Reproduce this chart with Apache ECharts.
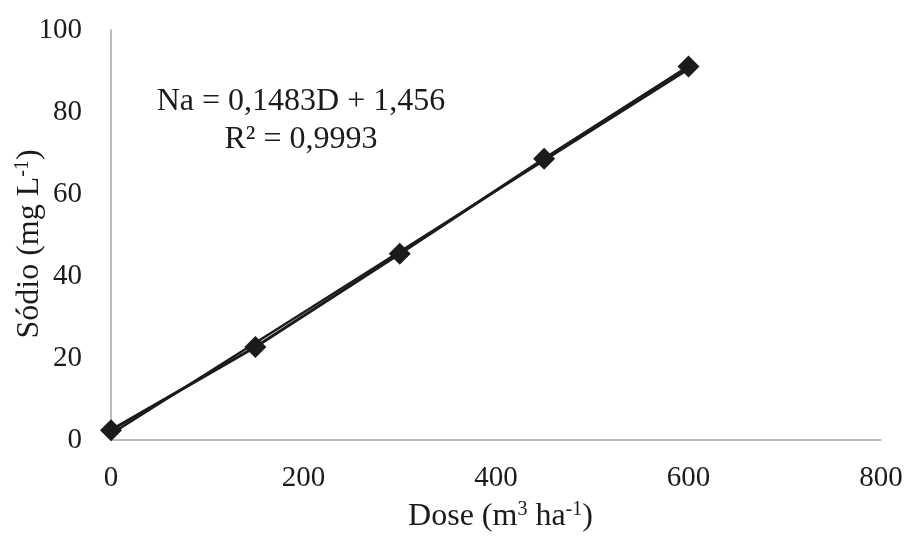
<!DOCTYPE html>
<html>
<head>
<meta charset="utf-8">
<script src="https://cdn.jsdelivr.net/npm/echarts@6/dist/echarts.min.js"></script>
<style>
  html, body { margin: 0; padding: 0; background: #fff; }
  #chart { width: 914px; height: 539px; }
</style>
</head>
<body>
<div id="chart"></div>
<script>
// Sodium concentration measured at each dose
const doses = [0, 150, 300, 450, 600];
const sodium = [2.4, 22.7, 45.4, 68.6, 91.1];

// Linear fit: Na = 0,1483D + 1,456
const slope = 0.1483;
const intercept = 1.456;
const fitRange = [0, 600];

const xTicks = [0, 200, 400, 600, 800];
const yTicks = [0, 20, 40, 60, 80, 100];

const equationText = 'Na = 0,1483D + 1,456';
const r2Text = 'R² = 0,9993';

const FONT = '"Liberation Serif", "Times New Roman", serif';
const INK = '#1b1b1b';
const AXIS = '#a6a6a6';

const measured = doses.map((d, i) => [d, sodium[i]]);
const fitLine = fitRange.map(d => [d, slope * d + intercept]);

const nameRich = {
  b: { fontFamily: FONT, fontSize: 32, color: INK },
  s: { fontFamily: FONT, fontSize: 20, color: INK, verticalAlign: 'top', padding: [0, 0, 13, 0] },
  gap: { width: 18 },
  lead: { width: 9 }
};

const chart = echarts.init(document.getElementById('chart'));
chart.setOption({
  animation: false,
  backgroundColor: '#ffffff',
  grid: {
    left: 111, right: 33, top: 30, bottom: 99,
    containLabel: false,
    outerBoundsMode: 'none'
  },
  xAxis: {
    type: 'value',
    min: xTicks[0], max: xTicks[xTicks.length - 1], interval: 200,
    axisLine: { show: true, lineStyle: { color: AXIS, width: 1.5 } },
    axisTick: { show: false },
    splitLine: { show: false },
    axisLabel: { color: INK, fontFamily: FONT, fontSize: 29, margin: 24 },
    name: '{lead|}{b|Dose (m}{s|3}{b| ha}{s|-1}{b|)}',
    nameLocation: 'middle',
    nameGap: 60,
    nameMoveOverlap: false,
    nameTextStyle: { rich: nameRich }
  },
  yAxis: {
    type: 'value',
    min: yTicks[0], max: yTicks[yTicks.length - 1], interval: 20,
    axisLine: { show: true, lineStyle: { color: AXIS, width: 1.5 } },
    axisTick: { show: false },
    splitLine: { show: false },
    axisLabel: { color: INK, fontFamily: FONT, fontSize: 29, margin: 29 },
    name: '{b|Sódio (mg L}{s|-1}{b|)}{gap|}',
    nameLocation: 'middle',
    nameGap: 65,
    nameRotate: 90,
    nameMoveOverlap: false,
    nameTextStyle: { rich: nameRich }
  },
  series: [
    {
      name: 'Sódio',
      type: 'line',
      data: measured,
      symbol: 'diamond',
      symbolSize: 22,
      itemStyle: { color: INK },
      lineStyle: { color: INK, width: 3 },
      z: 3
    },
    {
      name: 'Linear',
      type: 'line',
      data: fitLine,
      symbol: 'none',
      lineStyle: { color: INK, width: 2.5 },
      z: 2
    }
  ],
  graphic: [
    {
      type: 'text',
      x: 301, y: 121,
      style: {
        text: equationText + '\n' + r2Text,
        fill: INK,
        font: '32px ' + FONT,
        align: 'center',
        verticalAlign: 'middle',
        lineHeight: 38
      }
    }
  ]
});
</script>
</body>
</html>
